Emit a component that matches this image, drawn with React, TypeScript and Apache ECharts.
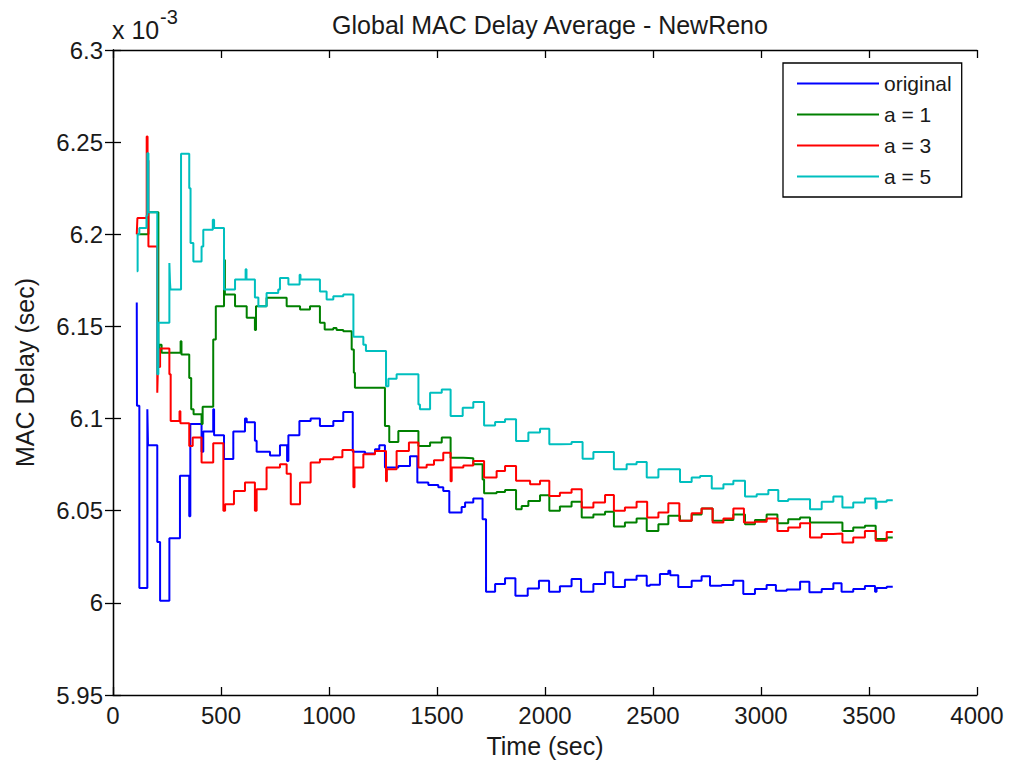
import React, { useEffect, useRef } from "react";
import * as echarts from "echarts";

// Global MAC delay average (units of 1e-3 s) sampled as stairs: [time (s), delay]
const original: number[][] = [
  [110, 6.163], [111, 6.107], [122, 6.008], [159, 6.105], [162, 6.0855], [205, 6.033],
  [218, 6.0011], [261, 6.035], [310, 6.069], [353, 6.047], [358, 6.097], [410, 6.082],
  [418, 6.093], [464, 6.105], [468, 6.091], [514, 6.078], [557, 6.093], [611, 6.1],
  [619, 6.098], [657, 6.088], [665, 6.082], [727, 6.08], [773, 6.0855], [806, 6.077],
  [812, 6.091], [863, 6.0987], [915, 6.1], [958, 6.096], [1020, 6.0987], [1066, 6.1035],
  [1110, 6.082], [1167, 6.081], [1213, 6.0833], [1233, 6.0855], [1259, 6.0734],
  [1321, 6.0743], [1375, 6.0795], [1409, 6.0653], [1460, 6.064], [1506, 6.0627],
  [1529, 6.0607], [1557, 6.049], [1614, 6.052], [1630, 6.0544], [1668, 6.0566],
  [1711, 6.0454], [1727, 6.006], [1769, 6.0102], [1815, 6.0133], [1863, 6.0039],
  [1920, 6.0078], [1972, 6.012], [2019, 6.006], [2069, 6.009], [2123, 6.0129],
  [2167, 6.006], [2224, 6.0102], [2278, 6.0166], [2316, 6.0086], [2370, 6.0125],
  [2424, 6.0147], [2471, 6.0093], [2486, 6.0098], [2532, 6.0156], [2571, 6.0174],
  [2580, 6.015], [2617, 6.0086], [2679, 6.012], [2725, 6.0145], [2764, 6.0093],
  [2818, 6.0097], [2872, 6.012], [2918, 6.0048], [2972, 6.0075], [3026, 6.0097],
  [3069, 6.0066], [3119, 6.0072], [3181, 6.0114], [3224, 6.0057], [3281, 6.0075],
  [3335, 6.0107], [3373, 6.006], [3427, 6.0075], [3481, 6.0092], [3528, 6.006],
  [3535, 6.008], [3582, 6.0087], [3610, 6.0087],
];

const a1: number[][] = [
  [110, 6.2], [150, 6.2], [164, 6.2119], [210, 6.138], [214, 6.14], [225, 6.1357],
  [313, 6.142], [317, 6.1348], [353, 6.122], [362, 6.105], [373, 6.1023], [410, 6.097],
  [415, 6.1064], [464, 6.1429], [476, 6.161], [514, 6.186], [518, 6.1673], [565, 6.161],
  [619, 6.1547], [657, 6.148], [662, 6.161], [711, 6.1655], [804, 6.161], [866, 6.1592],
  [912, 6.161], [958, 6.152], [980, 6.1483], [1020, 6.1492], [1035, 6.148],
  [1066, 6.1474], [1105, 6.1375], [1115, 6.1249], [1120, 6.1167], [1259, 6.096],
  [1279, 6.0873], [1321, 6.0932], [1414, 6.0851], [1468, 6.087], [1522, 6.0897],
  [1563, 6.0788], [1622, 6.0785], [1668, 6.0752], [1711, 6.067], [1718, 6.0595],
  [1776, 6.0602], [1815, 6.0613], [1866, 6.0508], [1892, 6.0526], [1923, 6.0553],
  [1977, 6.0584], [2020, 6.05], [2069, 6.0523], [2123, 6.0548], [2170, 6.0463],
  [2224, 6.048], [2278, 6.0494], [2319, 6.0415], [2370, 6.0436], [2424, 6.0458],
  [2471, 6.039], [2525, 6.0427], [2571, 6.0472], [2625, 6.0445], [2679, 6.048],
  [2725, 6.0512], [2776, 6.0445], [2826, 6.0449], [2872, 6.048], [2926, 6.0427],
  [2972, 6.0449], [3026, 6.048], [3076, 6.0432], [3126, 6.0454], [3181, 6.0463],
  [3227, 6.0436], [3377, 6.039], [3427, 6.0409], [3481, 6.0418], [3531, 6.0346],
  [3582, 6.0355], [3610, 6.0355],
];

const a3: number[][] = [
  [110, 6.2], [113, 6.2088], [156, 6.253], [160, 6.24], [164, 6.1934], [205, 6.114],
  [208, 6.128], [218, 6.138], [261, 6.124], [267, 6.0987], [308, 6.104], [312, 6.0975],
  [353, 6.0851], [369, 6.0897], [410, 6.0761], [464, 6.0866], [511, 6.05], [519, 6.0535],
  [560, 6.0607], [611, 6.0653], [657, 6.05], [665, 6.0617], [711, 6.0734], [773, 6.0752],
  [804, 6.07], [823, 6.0535], [866, 6.0653], [915, 6.0761], [958, 6.0779], [1020, 6.079],
  [1062, 6.083], [1113, 6.0627], [1118, 6.0734], [1159, 6.0806], [1213, 6.0824],
  [1264, 6.066], [1268, 6.0725], [1313, 6.0824], [1370, 6.087], [1414, 6.0734],
  [1452, 6.075], [1486, 6.0774], [1529, 6.0815], [1563, 6.066], [1568, 6.0734],
  [1622, 6.0745], [1668, 6.077], [1718, 6.068], [1776, 6.0716], [1815, 6.0743],
  [1866, 6.0662], [1931, 6.0644], [1977, 6.0662], [2020, 6.058], [2069, 6.0598],
  [2123, 6.0617], [2170, 6.0517], [2224, 6.0544], [2278, 6.0585], [2319, 6.05],
  [2370, 6.0517], [2424, 6.0548], [2473, 6.0463], [2525, 6.049], [2571, 6.054],
  [2622, 6.0445], [2679, 6.0486], [2725, 6.0512], [2776, 6.0436], [2826, 6.0458],
  [2872, 6.0512], [2921, 6.0436], [2972, 6.044], [3026, 6.0458], [3076, 6.039],
  [3126, 6.0409], [3181, 6.0432], [3227, 6.0355], [3281, 6.0373], [3335, 6.0376],
  [3377, 6.0328], [3427, 6.0355], [3481, 6.039], [3531, 6.0337], [3582, 6.0385],
  [3610, 6.0385],
];

const a5: number[][] = [
  [110, 6.18], [114, 6.2], [122, 6.2034], [155, 6.21], [159, 6.244], [164, 6.212],
  [205, 6.124], [210, 6.152], [261, 6.1844], [264, 6.1736], [266, 6.17], [315, 6.2437],
  [353, 6.225], [359, 6.1953], [372, 6.1853], [410, 6.1934], [418, 6.2025], [462, 6.2079],
  [468, 6.2034], [514, 6.17], [565, 6.1754], [614, 6.181], [618, 6.1754], [657, 6.1657],
  [673, 6.161], [711, 6.1682], [765, 6.17], [773, 6.1763], [812, 6.1727], [864, 6.1781],
  [868, 6.1754], [958, 6.169], [989, 6.1646], [1020, 6.1664], [1066, 6.1673],
  [1113, 6.1444], [1159, 6.14], [1171, 6.1366], [1264, 6.1176], [1275, 6.1216],
  [1313, 6.124], [1414, 6.1077], [1421, 6.105], [1468, 6.114], [1522, 6.1158],
  [1563, 6.1014], [1619, 6.1059], [1668, 6.109], [1718, 6.0963], [1769, 6.0981],
  [1815, 6.0996], [1866, 6.0878], [1923, 6.0924], [1977, 6.0945], [2020, 6.086],
  [2069, 6.0862], [2123, 6.0873], [2174, 6.0782], [2224, 6.0818], [2319, 6.0725],
  [2378, 6.0752], [2424, 6.0765], [2471, 6.068], [2525, 6.0725], [2625, 6.0656],
  [2679, 6.068], [2718, 6.0689], [2772, 6.062], [2826, 6.0644], [2872, 6.0662],
  [2926, 6.0577], [2980, 6.0589], [3034, 6.0613], [3080, 6.0553], [3126, 6.0562],
  [3227, 6.0508], [3281, 6.0548], [3335, 6.0577], [3377, 6.0517], [3427, 6.0544],
  [3481, 6.0566], [3531, 6.0512], [3535, 6.0548], [3582, 6.0557], [3610, 6.0557],
];

const seriesNames = ["original", "a = 1", "a = 3", "a = 5"];
const seriesColors = ["#0000ff", "#008000", "#ff0000", "#00bfbf"];
const seriesData = [original, a1, a3, a5];

const xRange = { min: 0, max: 4000, interval: 500 };
const yRange = { min: 5.95, max: 6.3, interval: 0.05 };

const FONT = "'Liberation Sans', Arial, Helvetica, sans-serif";
const TEXT = "#1a1a1a";

export default function App() {
  const ref = useRef<HTMLDivElement>(null);

  useEffect(() => {
    if (!ref.current) return;
    const chart = echarts.init(ref.current, undefined, { renderer: "svg" });

    const fmtX = (v: number) => String(Math.round(v));
    const fmtY = (v: number) => String(parseFloat(v.toFixed(2)));
    const axisLine = { show: true, lineStyle: { color: "#000", width: 1.3 } };
    const tick = { show: true, inside: true, length: 8, lineStyle: { color: "#000", width: 1.3 } };

    chart.setOption({
      animation: false,
      backgroundColor: "#ffffff",
      textStyle: { fontFamily: FONT },
      title: {
        text: "Global MAC Delay Average - NewReno",
        left: 545,
        top: 7,
        textAlign: "center",
        textStyle: { fontFamily: FONT, fontSize: 25, fontWeight: "normal", color: TEXT },
      },
      legend: {
        data: seriesNames.map((name) => ({ name, icon: "rect" })),
        orient: "vertical",
        left: 783,
        top: 63,
        padding: [10, 10, 10, 14],
        itemWidth: 82,
        itemHeight: 2,
        itemGap: 10,
        backgroundColor: "#ffffff",
        borderColor: "#000",
        borderWidth: 1.3,
        textStyle: { fontFamily: FONT, fontSize: 21, color: TEXT, lineHeight: 21 },
      },
      grid: { left: 113, top: 50, width: 864, height: 646, containLabel: false },
      xAxis: [
        {
          type: "value",
          ...xRange,
          position: "bottom",
          name: "Time (sec)",
          nameLocation: "middle",
          nameGap: 38,
          nameTextStyle: { fontFamily: FONT, fontSize: 25, color: TEXT },
          axisLine,
          axisTick: tick,
          splitLine: { show: false },
          axisLabel: { fontFamily: FONT, fontSize: 24, color: TEXT, margin: 8, formatter: fmtX },
        },
        {
          type: "value",
          ...xRange,
          position: "top",
          axisLine,
          axisTick: tick,
          splitLine: { show: false },
          axisLabel: { show: false },
        },
      ],
      yAxis: [
        {
          type: "value",
          ...yRange,
          position: "left",
          name: "MAC Delay (sec)",
          nameLocation: "middle",
          nameGap: 76,
          nameTextStyle: { fontFamily: FONT, fontSize: 25, color: TEXT },
          axisLine,
          axisTick: tick,
          splitLine: { show: false },
          axisLabel: { fontFamily: FONT, fontSize: 24, color: TEXT, margin: 10, formatter: fmtY },
        },
        {
          type: "value",
          ...yRange,
          position: "right",
          axisLine,
          axisTick: tick,
          splitLine: { show: false },
          axisLabel: { show: false },
        },
      ],
      graphic: [
        {
          type: "text",
          left: 112,
          top: 17,
          style: { text: "x 10", font: `25px ${FONT}`, fill: TEXT },
        },
        {
          type: "text",
          left: 160,
          top: 7,
          style: { text: "-3", font: `20px ${FONT}`, fill: TEXT },
        },
      ],
      series: seriesNames.map((name, i) => ({
        name,
        type: "line",
        step: "end",
        xAxisIndex: 0,
        yAxisIndex: 0,
        data: seriesData[i],
        showSymbol: false,
        symbol: "none",
        color: seriesColors[i],
        lineStyle: { color: seriesColors[i], width: 2 },
        clip: true,
      })),
    });

    return () => chart.dispose();
  }, []);

  return (
    <div
      ref={ref}
      style={{ position: "absolute", left: 0, top: 0, width: 1015, height: 763, background: "#fff" }}
    />
  );
}
